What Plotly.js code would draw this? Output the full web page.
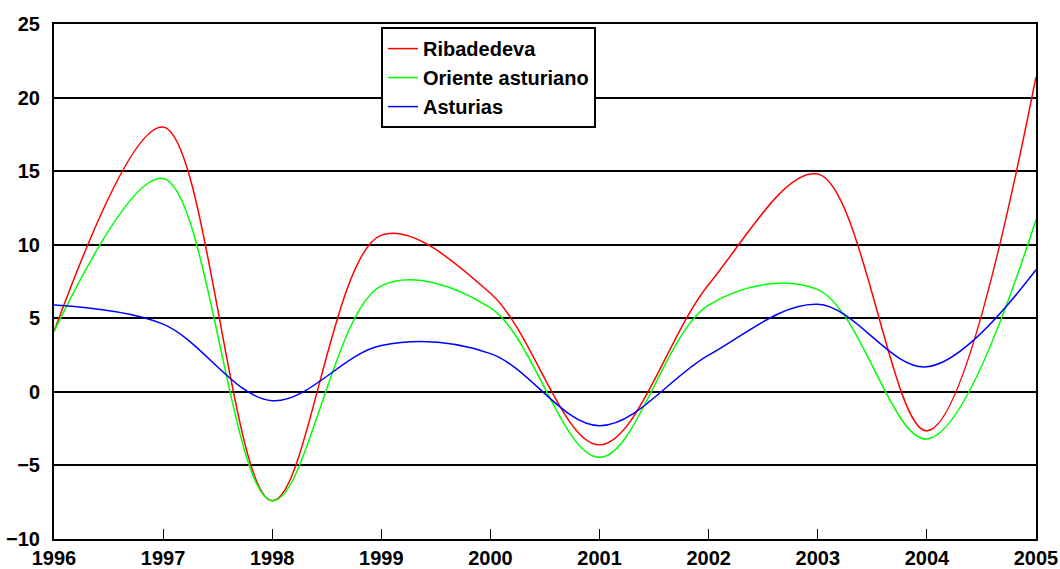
<!DOCTYPE html>
<html>
<head>
<meta charset="utf-8">
<script src="https://cdn.plot.ly/plotly-3.0.1.min.js"></script>
<style>
  body { margin: 0; background: #fff; }
  #chart { width: 1060px; height: 569px; }
</style>
</head>
<body>
<div id="chart"></div>
<script>
const years = [1996, 1997, 1998, 1999, 2000, 2001, 2002, 2003, 2004, 2005];
const ribadedeva = [4.1, 18.0, -7.4, 10.65, 6.7, -3.6, 7.3, 14.8, -2.65, 21.4];
const oriente = [4.1, 14.5, -7.4, 7.2, 5.7, -4.45, 5.9, 6.95, -3.2, 11.7];
const asturias = [5.9, 4.6, -0.6, 3.15, 2.6, -2.3, 2.5, 5.95, 1.7, 8.3];

const font = { family: "Liberation Sans, Arial, sans-serif", size: 20, color: "#000", weight: "bold" };

function series(name, values, color) {
  return {
    x: years,
    y: values,
    name: name,
    type: "scatter",
    mode: "lines",
    line: { color: color, width: 1.5, shape: "spline", smoothing: 1 },
  };
}

const data = [
  series("Ribadedeva", ribadedeva, "#ff0000"),
  series("Oriente asturiano", oriente, "#00ff00"),
  series("Asturias", asturias, "#0000ff"),
];

const layout = {
  width: 1060,
  height: 569,
  margin: { l: 54, r: 24, t: 24, b: 30 },
  paper_bgcolor: "#fff",
  plot_bgcolor: "#fff",
  font: font,
  showlegend: true,
  legend: {
    x: 0.333,
    y: 0.994,
    xanchor: "left",
    yanchor: "top",
    bgcolor: "#fff",
    bordercolor: "#000",
    borderwidth: 2,
    font: font,
    tracegroupgap: 0,
  },
  xaxis: {
    range: [1996, 2005],
    tickmode: "linear",
    tick0: 1996,
    dtick: 1,
    ticks: "inside",
    ticklen: 10,
    tickwidth: 1,
    tickcolor: "#000",
    showgrid: false,
    zeroline: false,
    showline: true,
    linecolor: "#000",
    linewidth: 2,
    mirror: true,
    tickfont: font,
  },
  yaxis: {
    range: [-10, 25],
    tickmode: "linear",
    tick0: -10,
    dtick: 5,
    ticks: "",
    ticklabelstandoff: 8,
    showgrid: true,
    gridcolor: "#000",
    gridwidth: 1.5,
    zeroline: false,
    showline: true,
    linecolor: "#000",
    linewidth: 2,
    mirror: true,
    tickfont: font,
  },
};

Plotly.newPlot("chart", data, layout, { displayModeBar: false });
</script>
</body>
</html>
